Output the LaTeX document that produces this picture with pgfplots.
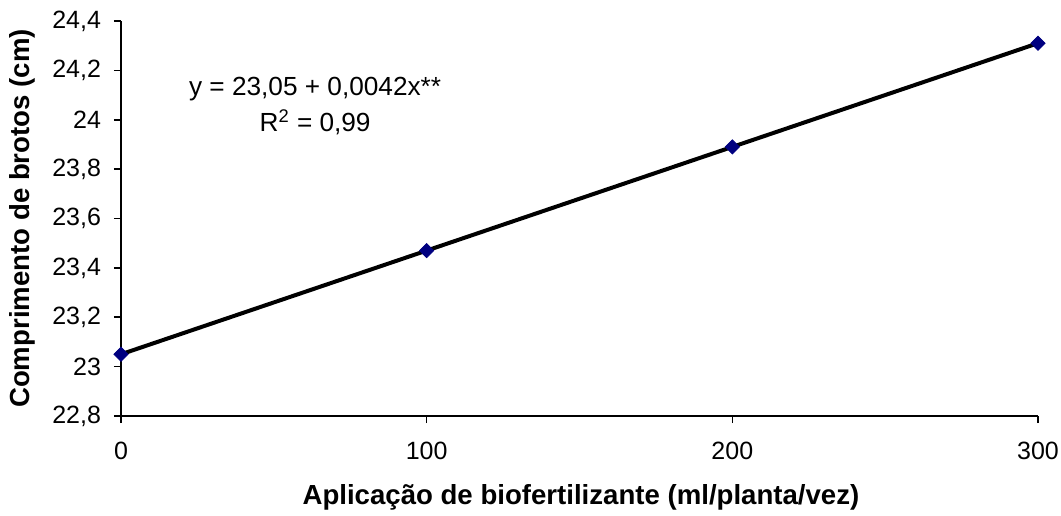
\documentclass[border=0pt]{standalone}
\usepackage{pgfplots}
\pgfplotsset{compat=1.18}
\usepackage{fontspec}
\setmainfont{Liberation Sans}
\definecolor{navyb}{RGB}{0,0,128}
\begin{document}
\begin{tikzpicture}
\path[use as bounding box] (-60.5pt,-49.5pt) rectangle (470pt,208pt);
\begin{axis}[
  at={(0,0)}, anchor=south west,
  scale only axis, width=458.5pt, height=197.5pt,
  xmin=0, xmax=300, ymin=22.8, ymax=24.4,
  axis x line*=bottom, axis y line*=left,
  axis line style={line width=0.8pt, -},
  xtick={0,100,200,300},
  ytick={22.8,23,23.2,23.4,23.6,23.8,24,24.2,24.4},
  tick align=outside, major tick length=3.5pt,
  tick style={line width=0.8pt, black},
  /pgf/number format/assume math mode=true,
  /pgf/number format/use comma,
  ticklabel style={font=\fontsize{12.5}{14}\selectfont},
  yticklabel style={xshift=-3pt},
  xticklabel style={yshift=-6pt},
  xlabel={\textbf{Aplicação de biofertilizante (ml/planta/vez)}},
  ylabel={\textbf{Comprimento de brotos (cm)}},
  every axis x label/.style={at={(axis description cs:0.5016,-0.205)}, anchor=center, font=\fontsize{13.8}{16}\selectfont},
  every axis y label/.style={at={(axis description cs:-0.108,0.5)}, rotate=90, anchor=center, font=\fontsize{13.8}{16}\selectfont},
  clip=false,
]
\addplot[only marks, mark=square*, mark size=2.5pt, mark options={rotate=45, fill=navyb, draw=navyb}]
  coordinates {(0,23.05) (100,23.47) (200,23.89) (300,24.31)};
\addplot[black, line width=2pt, no marks] coordinates {(0,23.05) (300,24.31)};
\node[align=center, font=\fontsize{13.1}{18}\selectfont] at (axis cs:63.5,24.055) {y = 23,05 + 0,0042x**\\R\textsuperscript{2} = 0,99};
\end{axis}
\end{tikzpicture}
\end{document}
